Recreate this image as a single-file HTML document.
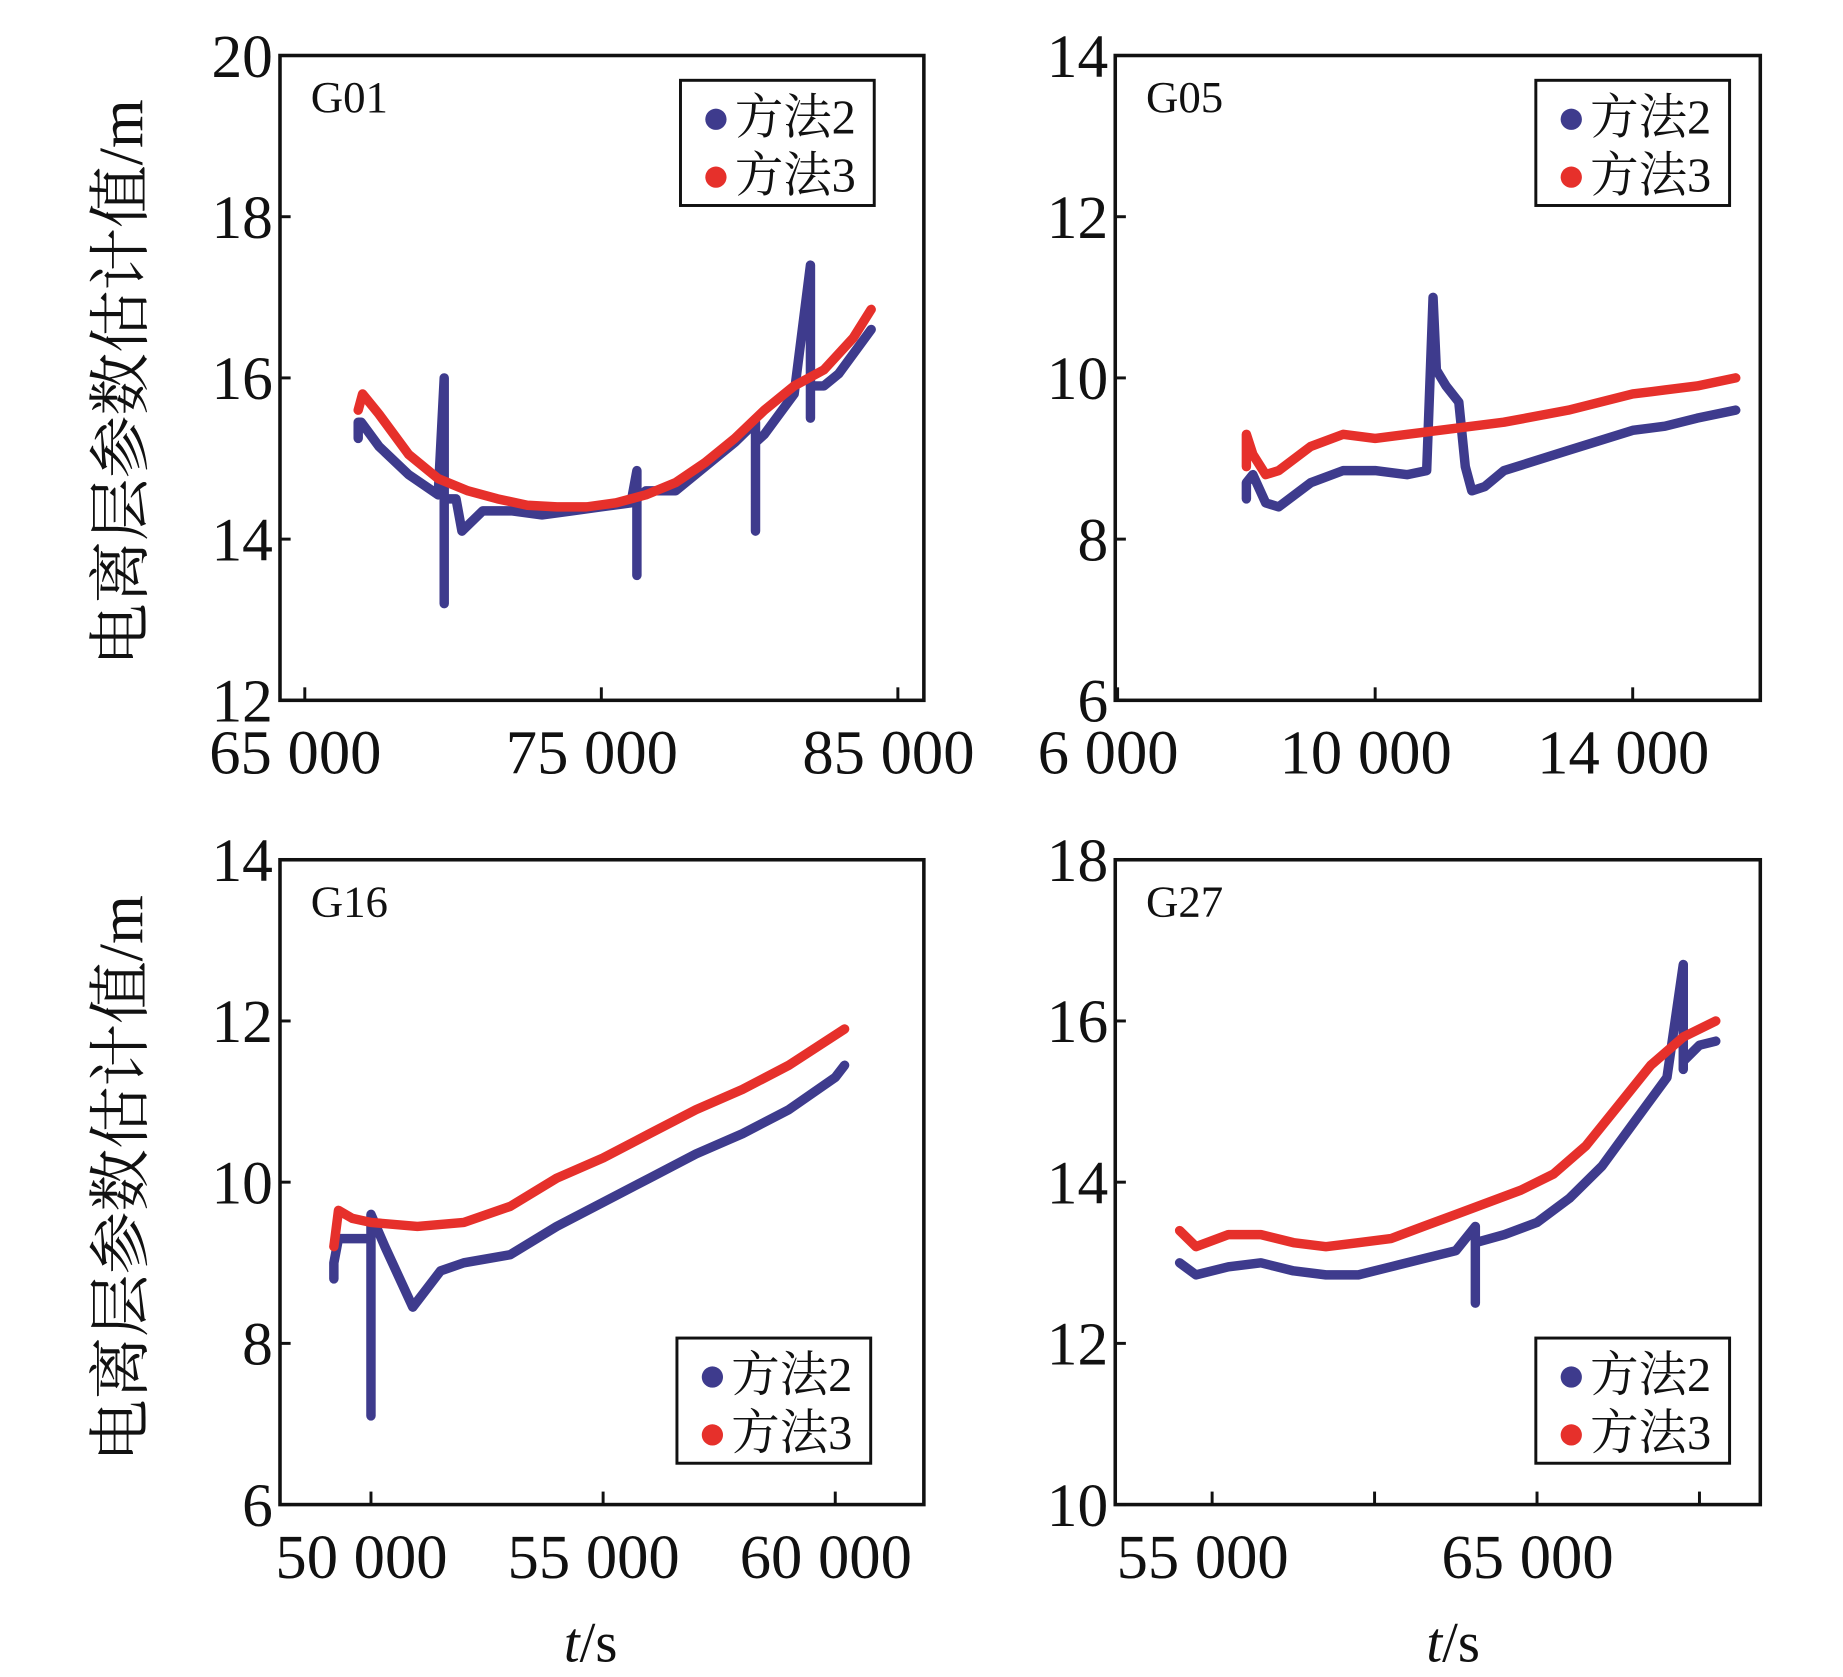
<!DOCTYPE html>
<html><head><meta charset="utf-8"><style>
html,body{margin:0;padding:0;background:#fff;}
svg{display:block;}
text{font-family:"Liberation Serif","Noto Serif CJK SC",serif;fill:#111;}
</style></head><body>
<svg id="chart" width="1843" height="1677" viewBox="0 0 1560 1420" preserveAspectRatio="none" xmlns="http://www.w3.org/2000/svg">
<text transform="translate(120,324) rotate(-90)" text-anchor="middle" font-size="53">电离层参数估计值/m</text>
<text transform="translate(120,998) rotate(-90)" text-anchor="middle" font-size="53">电离层参数估计值/m</text>
<text x="500" y="1407" text-anchor="middle" font-size="48"><tspan font-style="italic">t</tspan>/s</text>
<text x="1230" y="1407" text-anchor="middle" font-size="48"><tspan font-style="italic">t</tspan>/s</text>
</svg>
<script>
// ---- data ----
const g01T2=[66800,66800,66900,67500,68500,69500,69700,69700,69700,70100,70300,71000,72000,73000,74000,75000,76000,76200,76200,76200,76500,77500,78500,79500,80200,80200,80200,80500,81500,82050,82050,82050,82500,83000,84100];
const g01V2=[15.25,15.45,15.45,15.15,14.8,14.55,16.0,13.2,14.5,14.5,14.1,14.35,14.35,14.3,14.35,14.4,14.45,14.85,13.55,14.5,14.6,14.6,14.9,15.2,15.45,14.1,15.2,15.3,15.8,17.4,15.5,15.9,15.9,16.05,16.6];
const g01T3=[66800,66950,67500,68500,69500,70500,71500,72500,73500,74500,75500,76500,77500,78500,79500,80500,81500,82500,83500,84100];
const g01V3=[15.6,15.8,15.55,15.05,14.75,14.6,14.5,14.42,14.4,14.4,14.45,14.55,14.7,14.95,15.25,15.6,15.9,16.1,16.5,16.85];
const g05T2=[8000,8000,8100,8300,8500,9000,9500,10000,10500,10800,10900,10950,11100,11300,11400,11500,11700,12000,13000,14000,14500,15000,15600];
const g05V2=[8.5,8.7,8.8,8.45,8.4,8.7,8.85,8.85,8.8,8.85,11.0,10.1,9.9,9.7,8.9,8.6,8.65,8.85,9.1,9.35,9.4,9.5,9.6];
const g05T3=[8000,8000,8100,8300,8500,9000,9500,10000,10500,11000,12000,13000,14000,14500,15000,15600];
const g05V3=[8.9,9.3,9.05,8.8,8.85,9.15,9.3,9.25,9.3,9.35,9.45,9.6,9.8,9.85,9.9,10.0];
const g16T2=[49200,49200,49300,49700,50000,50000,50000,50300,50900,51500,52000,53000,54000,55000,56000,57000,58000,59000,60000,60200];
const g16V2=[8.8,9.0,9.3,9.3,9.3,7.1,9.6,9.2,8.45,8.9,9.0,9.1,9.45,9.75,10.05,10.35,10.6,10.9,11.3,11.45];
const g16T3=[49200,49300,49600,50000,51000,52000,53000,54000,55000,56000,57000,58000,59000,60200];
const g16V3=[9.2,9.65,9.55,9.5,9.45,9.5,9.7,10.05,10.3,10.6,10.9,11.15,11.45,11.9];
const g27T2=[54000,54500,55500,56500,57500,58500,59500,60500,61500,62500,63100,63100,63100,64000,65000,66000,67000,68000,69000,69500,69500,69500,70000,70500];
const g27V2=[13.0,12.85,12.95,13.0,12.9,12.85,12.85,12.95,13.05,13.15,13.45,12.5,13.25,13.35,13.5,13.8,14.2,14.75,15.3,16.7,15.4,15.5,15.7,15.75];
const g27T3=[54000,54500,55500,56500,57500,58500,59500,60500,61500,62500,63500,64500,65500,66500,67500,68500,69500,70500];
const g27V3=[13.4,13.2,13.35,13.35,13.25,13.2,13.25,13.3,13.45,13.6,13.75,13.9,14.1,14.45,14.95,15.45,15.8,16.0];
const g01XTicks=[65000,75000,85000], g01XLabels=["65 000","75 000","85 000"];
const g05XTicks=[6000,10000,14000], g05XLabels=["6 000","10 000","14 000"];
const g16XTicks=[50000,55000,60000], g16XLabels=["50 000","55 000","60 000"];
const g27XTicks=[55000,60000,65000,70000], g27XLabels=["55 000","","65 000",""];
const g01YTicks=[12,14,16,18,20], g05YTicks=[6,8,10,12,14], g16YTicks=[6,8,10,12,14], g27YTicks=[10,12,14,16,18];
// ---- drawing ----
const NS="http://www.w3.org/2000/svg";
const svg=document.getElementById('chart');
function mk(tag,attrs,parent){const e=document.createElementNS(NS,tag);for(const k in attrs)e.setAttribute(k,attrs[k]);(parent||svg).appendChild(e);return e;}
function panel(cfg){
  const g=mk('g',{});
  
  
  const L=cfg.box[0],T=cfg.box[1],R=cfg.box[2],B=cfg.box[3];
  const xs=t=>cfg.px0+(t-cfg.x0)*cfg.pxPer;
  const ys=v=>B-(v-cfg.yTicks[0])/(cfg.yTicks[cfg.yTicks.length-1]-cfg.yTicks[0])*(B-T);
  [[cfg.t2,cfg.v2,'#3e3b8d','series-method2'],[cfg.t3,cfg.v3,'#e6302b','series-method3']].forEach(s=>{
    const d=s[0].map((t,i)=>(i?'L':'M')+xs(t).toFixed(1)+','+ys(s[1][i]).toFixed(1)).join(' ');
    const p=mk('path',{d:d,fill:'none',stroke:s[2],'stroke-width':8,'stroke-linejoin':'round','stroke-linecap':'round'},g);
    
    
  });
  const r=mk('rect',{x:L,y:T,width:R-L,height:B-T,fill:'none',stroke:'#111','stroke-width':3},g);
  
  
  cfg.yTicks.forEach(v=>{
    const y=ys(v);
    mk('line',{x1:L,x2:L+9,y1:y,y2:y,stroke:'#111','stroke-width':2.5},g);
    const tx=mk('text',{x:L-6,y:y+18,'text-anchor':'end','font-size':52},g);
    tx.textContent=v;
    
    
  });
  cfg.xTicks.forEach((t,i)=>{
    const x=xs(t);
    mk('line',{x1:x,x2:x,y1:B,y2:B-11,stroke:'#111','stroke-width':2.5},g);
    if(cfg.xLabels[i]){
      const tx=mk('text',{x:x-8,y:B+62,'text-anchor':'middle','font-size':53},g);
      tx.textContent=cfg.xLabels[i];
      
      
    }
  });
  const ti=mk('text',{x:L+26,y:T+48,'font-size':38},g);
  ti.textContent=cfg.title;
  
  
  const lg=mk('g',{},g);
  
  
  const lx=cfg.leg[0],ly=cfg.leg[1];
  mk('rect',{x:lx,y:ly,width:164,height:106,fill:'#fff',stroke:'#111','stroke-width':2.5},lg);
  [['方法2','#3e3b8d'],['方法3','#e6302b']].forEach((e,i)=>{
    const c=mk('circle',{cx:lx+30,cy:ly+33+i*49,r:9,fill:e[1]},lg);
    
    
    const tx=mk('text',{x:lx+46,y:ly+45+i*49,'font-size':41},lg);
    tx.textContent=e[0];
    
    
  });
}
panel({name:'panel-g01',title:'G01',box:[237,47,782,593],x0:65000,px0:258,pxPer:251/10000,yTicks:g01YTicks,xTicks:g01XTicks,xLabels:g01XLabels,t2:g01T2,v2:g01V2,t3:g01T3,v3:g01V3,leg:[576,68]});
panel({name:'panel-g05',title:'G05',box:[944,47,1490,593],x0:6000,px0:946,pxPer:218/4000,yTicks:g05YTicks,xTicks:g05XTicks,xLabels:g05XLabels,t2:g05T2,v2:g05V2,t3:g05T3,v3:g05V3,leg:[1300,68]});
panel({name:'panel-g16',title:'G16',box:[237,728,782,1274],x0:50000,px0:314,pxPer:196.5/5000,yTicks:g16YTicks,xTicks:g16XTicks,xLabels:g16XLabels,t2:g16T2,v2:g16V2,t3:g16T3,v3:g16V3,leg:[573,1133]});
panel({name:'panel-g27',title:'G27',box:[944,728,1490,1274],x0:55000,px0:1026,pxPer:137.5/5000,yTicks:g27YTicks,xTicks:g27XTicks,xLabels:g27XLabels,t2:g27T2,v2:g27V2,t3:g27T3,v3:g27V3,leg:[1300,1133]});
</script>
</body></html>
